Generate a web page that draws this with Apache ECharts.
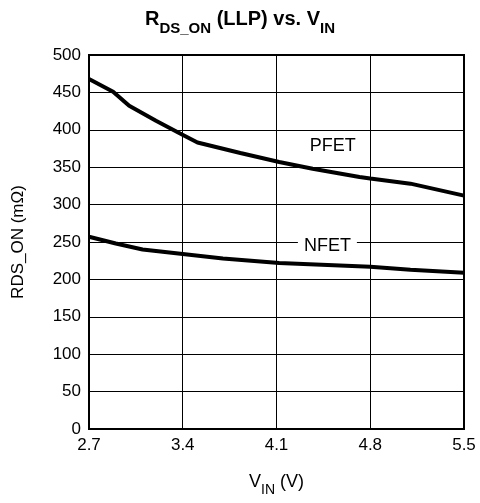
<!DOCTYPE html>
<html><head><meta charset="utf-8">
<script src="https://cdn.jsdelivr.net/npm/echarts@6/dist/echarts.min.js"></script>
<style>html,body{margin:0;padding:0;background:#fff}#c{width:480px;height:503px}</style>
</head><body><div id="c"></div>
<script>
const vin = [2.7, 2.88, 3.0, 3.2, 3.38, 3.51, 3.83, 4.12, 4.37, 4.72, 4.8, 5.1, 5.5];
const pfet = [468, 451, 432, 412, 395, 383, 369, 357, 348, 337, 335, 328, 312];
const nfetVin = [2.7, 2.9, 3.1, 3.4, 3.7, 4.12, 4.8, 5.1, 5.5];
const nfet = [257, 248, 240, 234, 228, 222, 217, 213, 209];
const xTicks = [2.7, 3.4, 4.1, 4.8, 5.5];
const labelPFET = {name: 'PFET', x: 4.52, y: 378};
const labelNFET = {name: 'NFET', x: 4.48, y: 244};

const font = 'Liberation Sans, Arial, sans-serif';
const chart = echarts.init(document.getElementById('c'));
chart.setOption({
  animation: false,
  backgroundColor: '#fff',
  title: {
    text: '{m|R}{s|DS_ON}{m| (LLP) vs. V}{s|IN}',
    left: 'center', top: 4,
    textStyle: {
      rich: {
        m: {fontFamily: font, fontWeight: 'bold', fontSize: 20, color: '#000', verticalAlign: 'top', lineHeight: 23},
        s: {fontFamily: font, fontWeight: 'bold', fontSize: 15, color: '#000', verticalAlign: 'top', lineHeight: 15, padding: [12, 0, 0, 0]}
      }
    }
  },
  grid: {left: 89, right: 16, top: 55, bottom: 74, show: true, borderColor: '#000', borderWidth: 2},
  xAxis: {
    type: 'value', min: 2.7, max: 5.5, interval: 0.7,
    axisLine: {show: true, lineStyle: {color: '#000', width: 2}},
    axisTick: {show: false},
    splitLine: {show: true, lineStyle: {color: '#000', width: 1}},
    axisLabel: {color: '#000', fontFamily: font, fontSize: 17, margin: 8,
      formatter: v => v.toFixed(1)},
    name: '{m|V}{s|IN}{m| (V)}', nameLocation: 'middle', nameGap: 44,
    nameTextStyle: {rich: {
      m: {fontFamily: font, fontSize: 18, color: '#000', verticalAlign: 'top', lineHeight: 20},
      s: {fontFamily: font, fontSize: 14, color: '#000', verticalAlign: 'top', lineHeight: 14, padding: [10, 0, 0, 0]}
    }}
  },
  yAxis: {
    type: 'value', min: 0, max: 500, interval: 50,
    axisLine: {show: true, lineStyle: {color: '#000', width: 2}},
    axisTick: {show: false},
    splitLine: {show: true, lineStyle: {color: '#000', width: 1}},
    axisLabel: {color: '#000', fontFamily: font, fontSize: 17, margin: 8},
    name: 'RDS_ON (mΩ)', nameLocation: 'middle', nameGap: 62, nameRotate: 90,
    nameTextStyle: {fontFamily: font, fontSize: 17, color: '#000'}
  },
  series: [
    {
      type: 'line', name: 'PFET', data: vin.map((v, i) => [v, pfet[i]]),
      symbol: 'none', lineStyle: {color: '#000', width: 4}, z: 5,
      markPoint: {
        symbol: 'rect', symbolSize: 0,
        data: [{coord: [labelPFET.x, labelPFET.y], value: labelPFET.name}],
        label: {show: true, formatter: labelPFET.name, color: '#000', fontFamily: font, fontSize: 18, position: 'inside'}
      }
    },
    {
      type: 'line', name: 'NFET', data: nfetVin.map((v, i) => [v, nfet[i]]),
      symbol: 'none', lineStyle: {color: '#000', width: 4}, z: 5,
      markPoint: {
        symbol: 'rect', symbolSize: 0,
        data: [{coord: [labelNFET.x, labelNFET.y], value: labelNFET.name}],
        label: {show: true, formatter: labelNFET.name, color: '#000', fontFamily: font, fontSize: 18, position: 'inside',
          backgroundColor: '#fff', padding: [0, 6, 0, 6]}
      }
    }
  ]
});
</script></body></html>
